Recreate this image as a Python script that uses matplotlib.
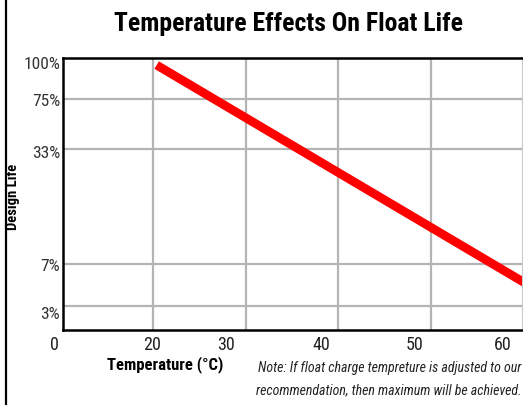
import matplotlib
matplotlib.use("Agg")
import matplotlib.pyplot as plt
from matplotlib.lines import Line2D
from matplotlib.transforms import blended_transform_factory

# --- data ---
# x: temperature (deg C); gridlines sit at 20..50
temp_grid = [20, 30, 40, 50]
temp_tick_labels = ["0", "20", "30", "40", "50", "60"]
temp_tick_at = [9.4, 19.9, 27.9, 38.2, 48.2, 57.7]

# y: design-life scale (chart runs 0..100 on a non-uniform life scale)
life_grid = [8.8, 24.3, 66.5, 84.9]
life_tick_labels = ["3%", "7%", "33%", "75%", "100%"]
life_tick_at = [6.3, 23.9, 65.4, 84.6, 98.2]

# float life curve (straight line on this chart)
curve_temp = [20.4, 61.0]
curve_life = [97.4, 15.5]

FONT = ["Roboto Condensed", "Archivo Narrow", "DejaVu Sans"]
plt.rcParams["font.family"] = FONT

W, H = 523, 405
fig = plt.figure(figsize=(W / 100, H / 100), dpi=100)
ax = fig.add_axes([63 / W, (H - 330) / H, (522 - 63) / W, (330 - 58) / H])
ax.set_xlim(10.3, 59.8)
ax.set_ylim(0, 100)

for t in temp_grid:
    ax.axvline(t, color="#b4b4b4", lw=1.6, zorder=1)
for g in life_grid:
    ax.axhline(g, color="#b4b4b4", lw=1.6, zorder=1)

ax.plot(curve_temp, curve_life, color="#ff0000", lw=6.3,
        solid_capstyle="butt", zorder=3)

# x labels drawn as text: the first one sits left of the frame
ax.set_xticks([])
xlab_tr = blended_transform_factory(ax.transData, fig.transFigure)
for pos, lab in zip(temp_tick_at, temp_tick_labels):
    ax.text(pos, 1 - 345 / H, lab, transform=xlab_tr, ha="center", va="center",
            fontsize=13, color="#222222", clip_on=False)

ax.set_yticks(life_tick_at)
ax.set_yticklabels(life_tick_labels, fontsize=12.5, color="#333333")
ax.tick_params(length=0, pad=2)
ax.set_ylim(0, 100)

for side in ["left", "top", "bottom"]:
    ax.spines[side].set_linewidth(1.8)
    ax.spines[side].set_color("black")
ax.spines["right"].set_color("#c8c8c8")
ax.spines["right"].set_linewidth(0.8)

fig.text(288 / W, 1 - 24 / H, "Temperature Effects On Float Life",
         ha="center", va="center", fontsize=18.5, fontweight="bold")
fig.text(13 / W, 1 - 197 / H, "Design Life", rotation=90,
         ha="center", va="center", fontsize=10.5, fontweight="bold")
fig.text(165 / W, 1 - 365 / H, "Temperature (°C)",
         ha="center", va="center", fontsize=12, fontweight="bold")
fig.text(521 / W, 1 - 368 / H,
         "Note: If float charge tempreture is adjusted to our",
         ha="right", va="center", fontsize=10, style="italic", color="#222222")
fig.text(521 / W, 1 - 390 / H,
         "recommendation, then maximum will be achieved.",
         ha="right", va="center", fontsize=10, style="italic", color="#222222")

# left border of the frame
fig.add_artist(Line2D([5.5 / W, 5.5 / W], [0, 1], color="black", lw=1.6,
                      transform=fig.transFigure))

fig.savefig("out.png", dpi=100)
